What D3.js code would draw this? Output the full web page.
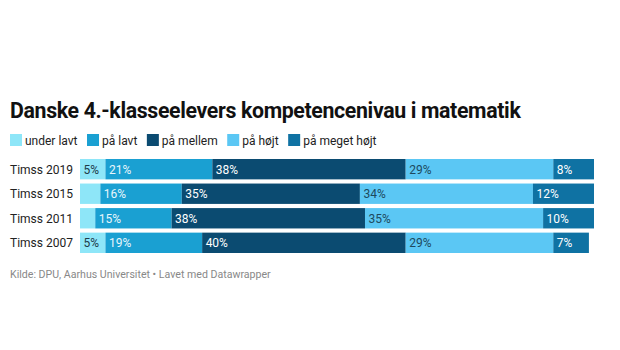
<!DOCTYPE html>
<html><head><meta charset="utf-8">
<script src="https://cdn.jsdelivr.net/npm/d3@7"></script>
<style>body{margin:0;background:#fff;font-family:Roboto,sans-serif}</style>
</head><body><svg id="c" width="620" height="350"></svg>
<script>
const categories = ["Timss 2019","Timss 2015","Timss 2011","Timss 2007"];
const levels = ["under lavt","på lavt","på mellem","på højt","på meget højt"];
const underLavt = [5,4,3,5];
const paaLavt = [21,16,15,19];
const paaMellem = [38,35,38,40];
const paaHoejt = [29,34,35,29];
const paaMegetHoejt = [8,12,10,7];
const showLabel = [[true,true,true,true,true],[false,true,true,true,true],[false,true,true,true,true],[true,true,true,true,true]];
const colors = ["#8ee6f8","#1aa0d2","#0b4b71","#5bc7f4","#0f72a3"];
const textColors = ["#1d3b4a","#e8f6fc","#ffffff","#1d4a5e","#ffffff"];
const series = [underLavt,paaLavt,paaMellem,paaHoejt,paaMegetHoejt];

const svg = d3.select("#c");
svg.append("text").attr("x",10).attr("y",118).attr("font-size",21.3).attr("font-weight",700)
  .attr("fill","#111").attr("letter-spacing","-0.35").text("Danske 4.-klasseelevers kompetencenivau i matematik");

// legend
let lx = 10;
levels.forEach((l,i)=>{
  svg.append("rect").attr("x",lx).attr("y",134).attr("width",12).attr("height",12).attr("fill",colors[i]);
  const t = svg.append("text").attr("x",lx+15).attr("y",144.5).attr("font-size",12).attr("fill","#222").text(l);
  lx += 15 + t.node().getComputedTextLength() + 9.5;
});

const x = d3.scaleLinear().domain([0,101]).range([80,594]);
const y = d3.scaleBand().domain(categories).range([159,253]).paddingInner(0.17).paddingOuter(0);

categories.forEach((c,ci)=>{
  svg.append("text").attr("x",10).attr("y",y(c)+y.bandwidth()/2+4.5).attr("font-size",12).attr("fill","#222").text(c);
  let acc = 0;
  series.forEach((s,si)=>{
    const v = s[ci];
    svg.append("rect").attr("x",x(acc)).attr("y",y(c)).attr("width",x(acc+v)-x(acc)).attr("height",y.bandwidth()).attr("fill",colors[si]);
    if(showLabel[ci][si]){
      svg.append("text").attr("x",x(acc)+3.5).attr("y",y(c)+y.bandwidth()/2+4.5).attr("font-size",12)
        .attr("fill",textColors[si]).text(v+"%");
    }
    acc += v;
  });
});

svg.append("text").attr("x",10).attr("y",278).attr("font-size",10.6).attr("fill","#888")
  .text("Kilde: DPU, Aarhus Universitet • Lavet med Datawrapper");
</script></body></html>
